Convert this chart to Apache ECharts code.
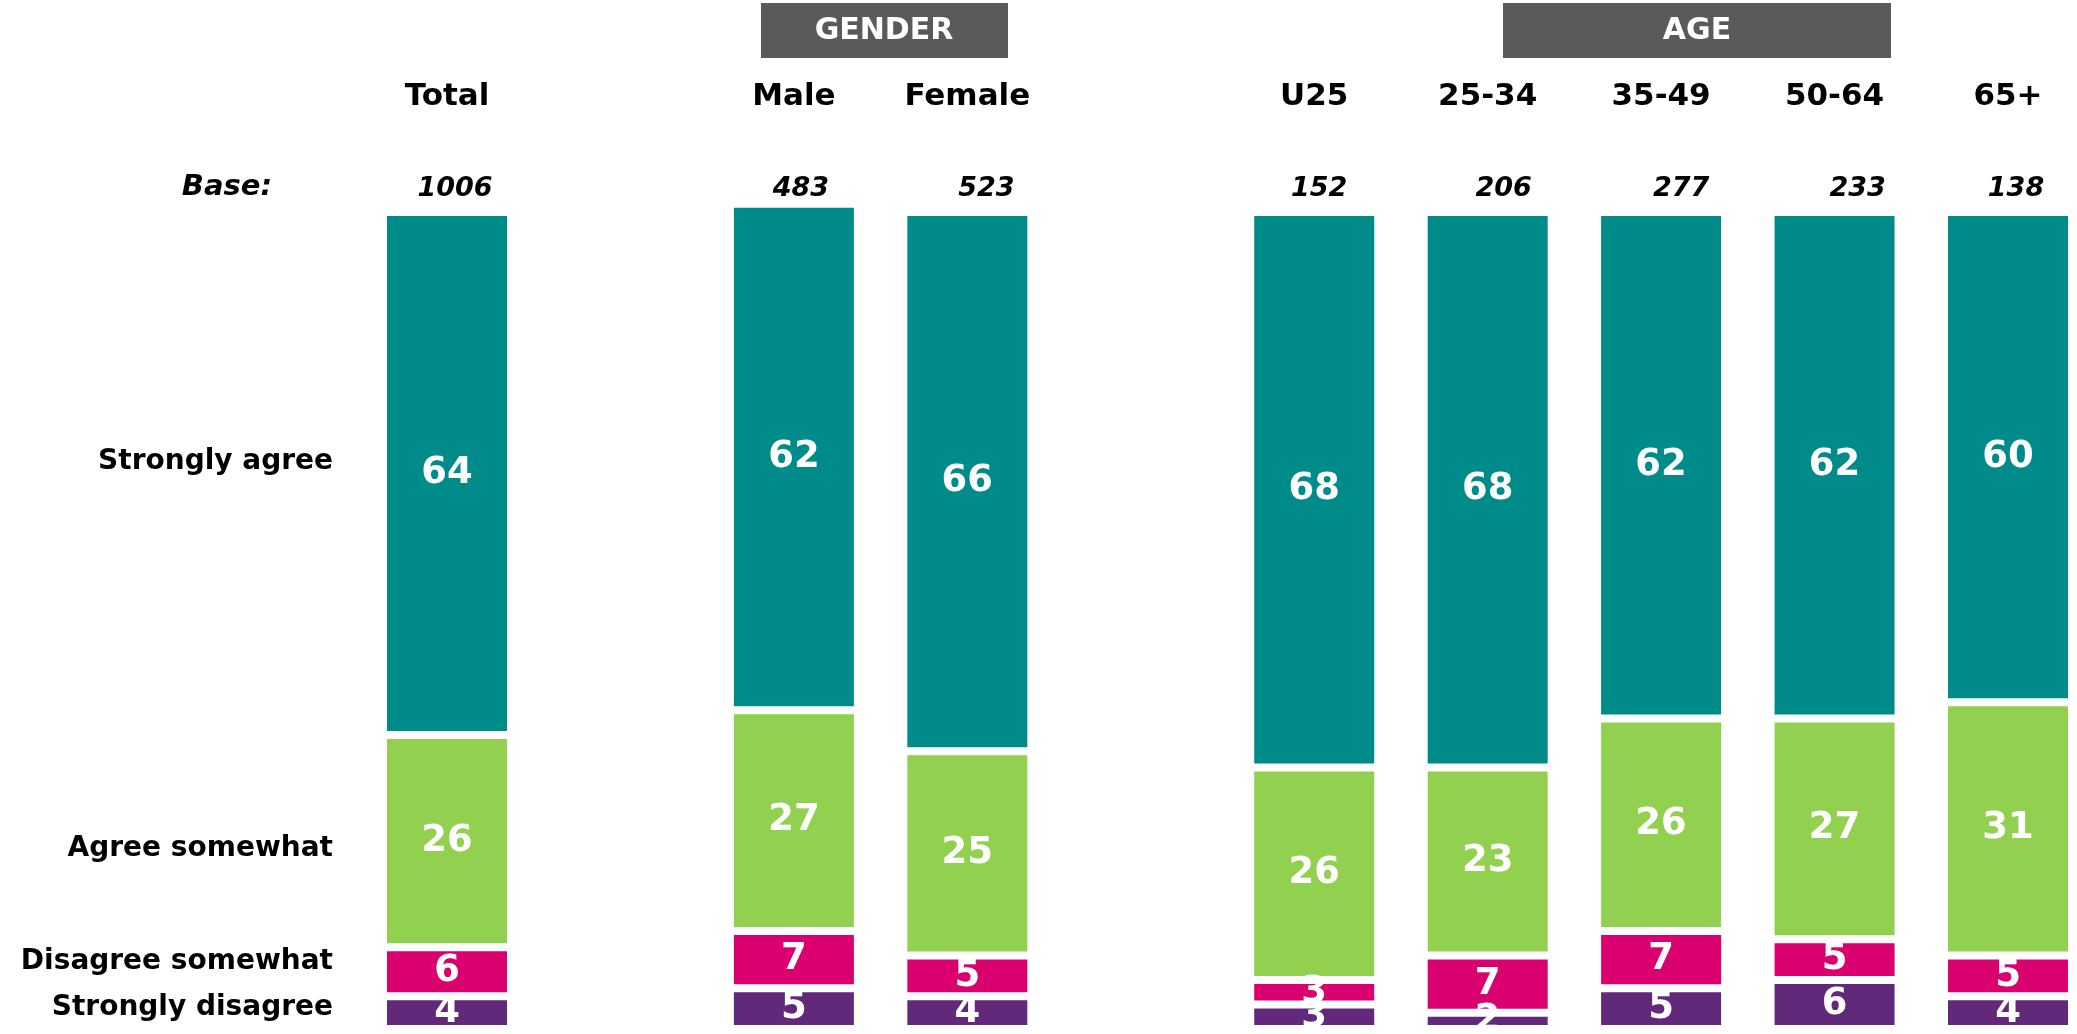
<!DOCTYPE html>
<html>
<head>
<meta charset="utf-8">
<script src="https://cdn.jsdelivr.net/npm/echarts@6.0.0/dist/echarts.min.js"></script>
<style>
  html, body { margin: 0; padding: 0; background: #fff; }
  #mainPlot { width: 2077px; height: 1034px; }
</style>
</head>
<body>
<div id="mainPlot"></div>
<script>
// columns (empty strings are the spacer gaps between groups)
const categories = ["Total", "", "Male", "Female", "", "U25", "25-34", "35-49", "50-64", "65+"];
const bases = ["1006", "", "483", "523", "", "152", "206", "277", "233", "138"];

const stronglyDisagree = [4, null, 5, 4, null, 3, 2, 5, 6, 4];
const disagreeSomewhat = [6, null, 7, 5, null, 3, 7, 7, 5, 5];
const agreeSomewhat = [26, null, 27, 25, null, 26, 23, 26, 27, 31];
const stronglyAgree = [64, null, 62, 66, null, 68, 68, 62, 62, 60];

const rowLabels = ["Strongly agree", "Agree somewhat", "Disagree somewhat", "Strongly disagree"];

const font = "DejaVu Sans";

// base numbers aren't centred over the bars in the original, nudge them right a bit
const baseNudge = [16, 0, 14, 38, 0, 10, 32, 40, 46, 16];

function seg(name, data, color) {
  return {
    name: name,
    type: "bar",
    stack: "all",
    barWidth: 128,
    clip: false,
    data: data,
    itemStyle: { color: color, borderColor: "#fff", borderWidth: 4 },
    label: {
      show: true,
      position: "inside",
      color: "#fff",
      fontFamily: font,
      fontWeight: "bold",
      fontSize: 37,
    },
  };
}

const baseRich = {};
baseNudge.forEach((n, i) => {
  baseRich["b" + i] = {
    color: "#000",
    fontFamily: font,
    fontWeight: "bold",
    fontStyle: "italic",
    fontSize: 27,
    padding: [0, 0, 0, n],
  };
});

const chartDom = document.getElementById("mainPlot");
const myChart = echarts.init(chartDom);

const textStyleLeft = { fill: "#000", font: "bold 28px 'DejaVu Sans'", textAlign: "right", textVerticalAlign: "middle" };

// category ticks sit on the bar centres (boundaryGap false)
const option = {
  animation: false,
  grid: { left: 447, top: 212, width: 1561, height: 817 },
  xAxis: [
    {
      type: "category",
      data: categories,
      boundaryGap: false,
      position: "top",
      axisLine: { show: false },
      axisTick: { show: false },
      splitLine: { show: false },
      axisLabel: {
        margin: 115,
        verticalAlign: "middle",
        color: "#000",
        fontFamily: font,
        fontWeight: "bold",
        fontSize: 31,
        interval: 0,
      },
    },
    {
      type: "category",
      data: bases,
      boundaryGap: false,
      position: "top",
      axisLine: { show: false },
      axisTick: { show: false },
      splitLine: { show: false },
      axisLabel: {
        margin: 23,
        verticalAlign: "middle",
        interval: 0,
        formatter: (val, idx) => (val ? "{b" + idx + "|" + val + "}" : ""),
        rich: baseRich,
      },
    },
  ],
  yAxis: {
    type: "value",
    min: 0,
    max: 100,
    show: false,
  },
  series: [
    seg("Strongly disagree", stronglyDisagree, "#622879"),
    seg("Disagree somewhat", disagreeSomewhat, "#DA0070"),
    seg("Agree somewhat", agreeSomewhat, "#92D050"),
    seg("Strongly agree", stronglyAgree, "#008B8B"),
  ],
  graphic: [
    { type: "rect", shape: { x: 761, y: 3, width: 247, height: 55 }, style: { fill: "#595A5C" } },
    { type: "text", x: 884, y: 31, style: { text: "GENDER", fill: "#fff", font: "bold 30px 'DejaVu Sans'", textAlign: "center", textVerticalAlign: "middle" } },
    { type: "rect", shape: { x: 1503, y: 3, width: 388, height: 55 }, style: { fill: "#595A5C" } },
    { type: "text", x: 1697, y: 31, style: { text: "AGE", fill: "#fff", font: "bold 30px 'DejaVu Sans'", textAlign: "center", textVerticalAlign: "middle" } },
    { type: "text", x: 272, y: 187, style: { text: "Base:", fill: "#000", font: "italic bold 29px 'DejaVu Sans'", textAlign: "right", textVerticalAlign: "middle" } },
    { type: "text", x: 333, y: 462, style: Object.assign({ text: rowLabels[0] }, textStyleLeft) },
    { type: "text", x: 333, y: 849, style: Object.assign({ text: rowLabels[1] }, textStyleLeft) },
    { type: "text", x: 333, y: 962, style: Object.assign({ text: rowLabels[2] }, textStyleLeft) },
    { type: "text", x: 333, y: 1008, style: Object.assign({ text: rowLabels[3] }, textStyleLeft) },
  ],
};

myChart.setOption(option);
window.addEventListener("resize", () => {
  myChart.resize();
});
</script>
</body>
</html>
